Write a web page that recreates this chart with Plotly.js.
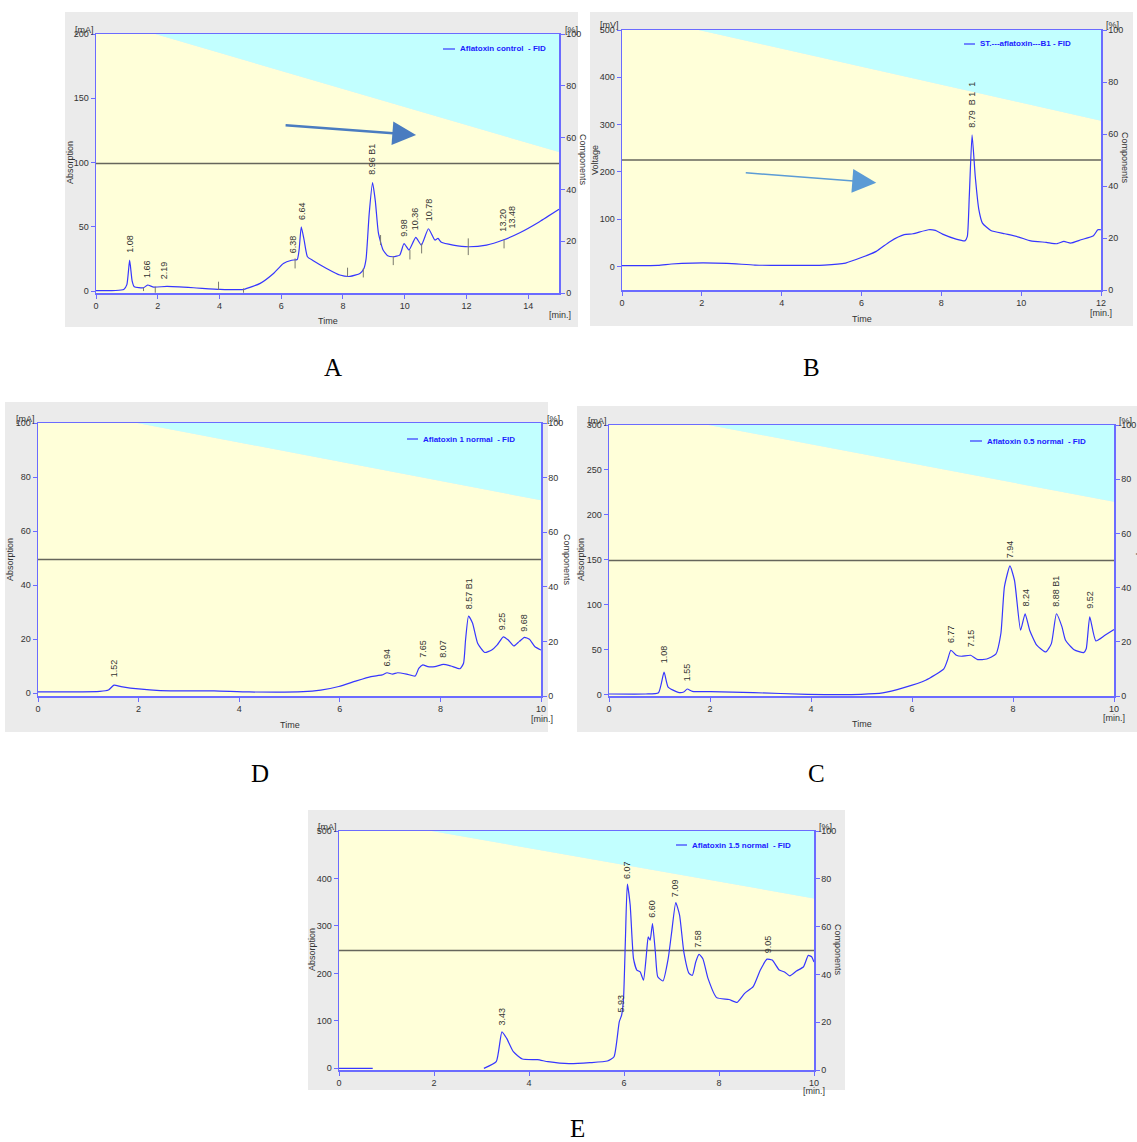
<!DOCTYPE html>
<html><head><meta charset="utf-8">
<script src="https://cdn.plot.ly/plotly-3.0.1.min.js"></script>
<style>html,body{margin:0;padding:0;background:#fff}#chart{width:1137px;height:1142px}</style>
</head><body><div id="chart"></div>
<script>
// ---------- DATA ----------
// Panel A : Aflatoxin control
const timeA = [0,0.9,1.0,1.09,1.17,1.24,1.54,1.67,1.87,2.3,3.16,4.02,4.78,5.32,5.75,6.07,6.34,6.52,6.58,6.65,6.74,6.85,7.04,7.47,7.9,8.23,8.55,8.68,8.75,8.85,8.96,9.05,9.15,9.3,9.45,9.63,9.84,9.98,10.14,10.36,10.54,10.77,10.98,11.08,11.19,11.57,12.06,12.65,13.19,13.73,14.37,15];
const absA  = [0.3,1.3,5,24,8,3.4,2.6,4.7,3.1,3.6,2.6,1.3,1.3,6,13.7,21.5,24,24.6,32,50,40,26.7,23.6,17.6,12.5,11.4,13.7,17.6,25,60,84.3,70,45,32,27.5,26.7,28,37,32,41.8,35.8,48.5,39.7,41,37.9,35.8,34.5,35.8,39.7,45.4,54,63.6];
const gradTimeA = [0,1.92,15];
const gradPctA  = [100,100,54.4];
const peakTimeA  = [1.09,1.65,2.19,6.39,6.65,8.96,9.99,10.36,10.77,13.19,13.49];
const peakLevelA = [28,8.6,7.3,28,54,89,41,46,52.7,44.4,47];
const peakTextA  = ['1.08','1.66','2.19','6.38','6.64','8.96 B1','9.98','10.36','10.78','13.20','13.48'];
const markTimeA = [1.54,1.92,3.97,4.78,6.45,8.15,8.66,9.22,9.63,10.17,10.55,12.06,13.22];
const markLowA  = [0,-1.3,0.8,-1.3,17.6,11.2,10.6,35.8,20.2,24.6,29.3,28,33.2];
const markHighA = [2.6,3.4,7.3,2,25.4,18.2,17.6,43.6,27.2,31.9,37.1,41,40.2];

// Panel B : ST.---aflatoxin---B1
const timeB = [0,0.9,1.24,1.77,2.63,3.33,4.03,5.07,5.6,6.03,6.37,6.72,7.07,7.29,7.68,7.85,8.03,8.37,8.59,8.65,8.7,8.77,8.85,8.94,9.03,9.24,9.59,9.94,10.24,10.63,10.9,11.07,11.24,11.5,11.81,11.92,12];
const voltB = [1.4,2,5,7,6.3,2.8,2,2.8,7,19.7,31.7,52.8,67,69,77.5,76,68.3,57.7,54,63,148,278,190,120,91.5,76,69,62,54,50.7,47.9,52.8,49.3,56.3,64.8,77.5,77.5];
const gradTimeB = [0,1.92,12];
const gradPctB  = [100,100,65.1];
const peakTimeB  = [8.77];
const peakLevelB = [289];
const peakTextB  = ['8.79  B 1  1'];

// Panel D : Aflatoxin 1 normal
const timeD = [0,0.66,1.23,1.4,1.51,1.65,2.0,2.43,3.5,4.2,5.27,5.62,5.98,6.33,6.62,6.84,6.94,7.05,7.15,7.33,7.5,7.57,7.65,7.75,7.89,8.06,8.21,8.39,8.46,8.5,8.56,8.64,8.74,8.88,9.02,9.13,9.25,9.35,9.46,9.57,9.67,9.77,9.88,10];
const absD  = [0.5,0.5,0.7,1.2,3,2.5,1.6,1,0.9,0.5,0.6,1.2,2.5,4.6,6.2,6.8,7.6,7.1,7.6,7.1,6.4,9.2,10.5,9.9,9.9,10.7,10.1,9.1,11.1,19.7,28.6,25.9,18.5,15.1,16,17.9,20.9,19.7,17.5,19.2,20.7,20,17.2,16];
const gradTimeD = [0,1.97,10];
const gradPctD  = [100,100,71.7];
const peakTimeD  = [1.51,6.94,7.65,8.06,8.56,9.24,9.67];
const peakLevelD = [5.2,9.2,12.3,12.6,30.4,22.5,22.2];
const peakTextD  = ['1.52','6.94','7.65','8.07','8.57 B1','9.25','9.68'];

// Panel C : Aflatoxin 0.5 normal
const timeC = [0,0.73,0.98,1.09,1.17,1.37,1.48,1.55,1.65,2.01,2.86,3.93,4.99,5.42,5.84,6.27,6.63,6.7,6.77,6.88,6.98,7.16,7.3,7.48,7.66,7.76,7.83,7.94,8.03,8.15,8.24,8.33,8.47,8.65,8.76,8.86,8.97,9.04,9.21,9.4,9.45,9.52,9.64,9.82,10];
const absC  = [0.7,0.7,2.2,25,8.5,2.6,3,6.3,3.7,3.3,2.2,0.4,0.4,1.9,7.8,16,28.6,38,49.4,43.8,42.7,43.8,39,39.7,45,68,120,143.3,127,71.7,90,71.7,55,47.5,56.8,90,75.4,60.5,50,46.8,51,86.5,59.8,66,72.4];
const gradTimeC = [0,1.97,10];
const gradPctC  = [100,100,71.7];
const peakTimeC  = [1.09,1.55,6.77,7.16,7.94,8.25,8.86,9.52];
const peakLevelC = [32.7,13,55,50,149.6,95.4,95.4,93.2];
const peakTextC  = ['1.08','1.55','6.77','7.15','7.94','8.24','8.88 B1','9.52'];

// Panel E : Aflatoxin 1.5 normal
const timeE = [0,0.71,1.5,3.05,3.31,3.43,3.53,3.67,3.86,4.18,4.4,4.84,5.28,5.65,5.79,5.9,5.95,5.99,6.03,6.07,6.13,6.2,6.27,6.34,6.41,6.47,6.51,6.55,6.6,6.66,6.71,6.82,6.93,7.0,7.09,7.17,7.26,7.37,7.44,7.51,7.58,7.66,7.77,7.95,8.21,8.38,8.54,8.72,8.87,9.01,9.12,9.27,9.38,9.49,9.63,9.78,9.88,9.95,10];
const absE  = [0,0,null,0,14,77,63,35,19.6,18.2,14,9.8,11.9,15.4,24.5,98,112,147,273,388,344,231,207,203,186,238,277,270,305,245,193,184,231,284,349,323,245,200,196,224,240,231,189,149,145,139,158,172,207,230,228,207,203,195,205,214,238,235,224];
const gradTimeE = [0,1.95,10];
const gradPctE  = [100,100,71.8];
const peakTimeE  = [3.43,5.94,6.08,6.6,7.09,7.57,9.03];
const peakLevelE = [86,113.6,394,312,356,249,238];
const peakTextE  = ['3.43','5.93','6.07','6.60','7.09','7.58','9.05'];

// ---------- LAYOUT HELPERS ----------
const W = 1137, H = 1142;
const PX = x => x / W, PY = y => 1 - y / H;
const YEL = '#ffffd9', CYAN = '#c2ffff', GRAY = '#ebebeb';
const AXIS = '#6b6bff', CURVE = '#3636ff', TXT = '#333333';
const FONT = 'Liberation Sans, Arial, sans-serif';

const panels = [
  {t:timeA, v:absA, gT:gradTimeA, gP:gradPctA, pT:peakTimeA, pL:peakLevelA, pS:peakTextA,
   box:[65,12,578,327], plot:[96,34,559,293], yr:[-1.5,200], dt:50, xEnd:15,
   unit:'[mA]', unitPos:[84,30], pctPos:[571,30], yTitle:'Absorption', yTitlePos:[70,163],
   compPos:[583,160], timePos:[328,321], minPos:[560,315],
   legend:'Aflatoxin control  - FID', legPos:[443,455,458,49], letter:'A', letterPos:[333,367]},
  {t:timeB, v:voltB, gT:gradTimeB, gP:gradPctB, pT:peakTimeB, pL:peakLevelB, pS:peakTextB,
   box:[590,12,1133,326], plot:[622,30,1101,290], yr:[-50,500], dt:100, xEnd:12,
   unit:'[mV]', unitPos:[609,25], pctPos:[1112,25], yTitle:'Voltage', yTitlePos:[595,160],
   compPos:[1125,158], timePos:[862,319], minPos:[1101,313],
   legend:'ST.---aflatoxin---B1 - FID', legPos:[964,975,978,44], letter:'B', letterPos:[811,367]},
  {t:timeD, v:absD, gT:gradTimeD, gP:gradPctD, pT:peakTimeD, pL:peakLevelD, pS:peakTextD,
   box:[5,402,548,732], plot:[38,423,541,696], yr:[-1,100], dt:20, xEnd:10,
   unit:'[mA]', unitPos:[25,419], pctPos:[553,419], yTitle:'Absorption', yTitlePos:[10,560],
   compPos:[567,560], timePos:[290,725], minPos:[542,719],
   legend:'Aflatoxin 1 normal  - FID', legPos:[407,418,421,439], letter:'D', letterPos:[260,773]},
  {t:timeC, v:absC, gT:gradTimeC, gP:gradPctC, pT:peakTimeC, pL:peakLevelC, pS:peakTextC,
   box:[577,406,1137,732], plot:[609,425,1114,696], yr:[-1.5,300], dt:50, xEnd:10,
   unit:'[mA]', unitPos:[597,421], pctPos:[1125,421], yTitle:'Absorption', yTitlePos:[581,560],
   compPos:[1141,560], timePos:[862,724], minPos:[1114,718],
   legend:'Aflatoxin 0.5 normal  - FID', legPos:[970,982,985,441], letter:'C', letterPos:[816,773]},
  {t:timeE, v:absE, gT:gradTimeE, gP:gradPctE, pT:peakTimeE, pL:peakLevelE, pS:peakTextE,
   box:[308,810,845,1090], plot:[339,831,814,1070], yr:[-3.5,500], dt:100, xEnd:10,
   unit:'[mA]', unitPos:[327,827], pctPos:[825,827], yTitle:'Absorption', yTitlePos:[312,950],
   compPos:[838,950], timePos:null, minPos:[814,1091],
   legend:'Aflatoxin 1.5 normal  - FID', legPos:[676,687,690,845], letter:'E', letterPos:[577,1128]}
];

const sfx = k => (k === 1 ? '' : String(k));
const traces = [], shapes = [], annotations = [];
const layout = {
  width: W, height: H, margin: {l:0, r:0, t:0, b:0},
  paper_bgcolor: '#ffffff', plot_bgcolor: 'rgba(0,0,0,0)',
  showlegend: false, font: {family: FONT, size: 9, color: TXT},
  shapes, annotations
};

const tickFont = {family: FONT, size: 9, color: TXT};
const note = (x, y, text, extra) => annotations.push(Object.assign({
  xref:'paper', yref:'paper', x: PX(x), y: PY(y), text, showarrow:false,
  xanchor:'center', yanchor:'middle', font:{family:FONT, size:9, color:TXT}
}, extra || {}));

panels.forEach((p, i) => {
  const n = i + 1;
  const xk = 'x' + sfx(n), baseK = 'y' + sfx(2*n-1), leftK = 'y' + sfx(2*n);
  const [x0, y0, x1, y1] = p.plot;
  layout['xaxis' + sfx(n)] = {
    domain: [PX(x0), PX(x1)], range: [0, p.xEnd], anchor: baseK,
    showline: true, linecolor: AXIS, linewidth: 1.5, mirror: true,
    ticks: 'outside', ticklen: 4, tickcolor: AXIS, dtick: 2, tick0: 0,
    tickfont: tickFont, showgrid: false, zeroline: false, fixedrange: true
  };
  layout['yaxis' + sfx(2*n-1)] = {
    domain: [PY(y1), PY(y0)], range: [0, 100], anchor: xk, side: 'right',
    showline: true, linecolor: AXIS, linewidth: 1.5,
    ticks: 'outside', ticklen: 4, tickcolor: AXIS, dtick: 20, tick0: 0,
    tickfont: tickFont, showgrid: false, zeroline: false, fixedrange: true
  };
  layout['yaxis' + sfx(2*n)] = {
    overlaying: baseK, range: p.yr, anchor: xk, side: 'left',
    showline: true, linecolor: AXIS, linewidth: 1.5,
    ticks: 'outside', ticklen: 4, tickcolor: AXIS, dtick: p.dt, tick0: 0,
    tickfont: tickFont, showgrid: false, zeroline: false, fixedrange: true
  };

  // grey panel background
  const [bx0, by0, bx1, by1] = p.box;
  shapes.push({type:'rect', xref:'paper', yref:'paper', layer:'below',
    x0:PX(bx0), x1:PX(bx1), y0:PY(by1), y1:PY(by0), fillcolor:GRAY, line:{width:0}});

  // gradient (yellow below, cyan above)
  traces.push({x:p.gT, y:p.gP, xaxis:xk, yaxis:baseK, mode:'lines', fill:'tozeroy',
    fillcolor:YEL, line:{width:0, color:YEL}, hoverinfo:'skip'});
  traces.push({x:[0, p.xEnd], y:[100, 100], xaxis:xk, yaxis:baseK, mode:'lines', fill:'tonexty',
    fillcolor:CYAN, line:{width:0, color:CYAN}, hoverinfo:'skip'});
  // 50 % reference line
  traces.push({x:[0, p.xEnd], y:[50, 50], xaxis:xk, yaxis:baseK, mode:'lines',
    line:{width:1.5, color:'#66665c'}, hoverinfo:'skip'});
  // chromatogram
  traces.push({x:p.t, y:p.v, xaxis:xk, yaxis:leftK, mode:'lines', connectgaps:false,
    line:{color:CURVE, width:1.2, shape:'spline', smoothing:0.5}});

  // peak labels
  p.pT.forEach((t, k) => annotations.push({xref:xk, yref:leftK, x:t, y:p.pL[k],
    text:p.pS[k], textangle:-90, showarrow:false, xanchor:'center', yanchor:'bottom',
    font:{family:FONT, size:9, color:TXT}}));

  // texts
  note(p.unitPos[0], p.unitPos[1], p.unit);
  note(p.pctPos[0], p.pctPos[1], '[%]');
  note(p.yTitlePos[0], p.yTitlePos[1], p.yTitle, {textangle:-90});
  note(p.compPos[0], p.compPos[1], 'Components', {textangle:90});
  if (p.timePos) note(p.timePos[0], p.timePos[1], 'Time');
  note(p.minPos[0], p.minPos[1], '[min.]');
  // legend
  const [lx0, lx1, ltx, ly] = p.legPos;
  shapes.push({type:'line', xref:'paper', yref:'paper', x0:PX(lx0), x1:PX(lx1), y0:PY(ly), y1:PY(ly),
    line:{color:CURVE, width:1.2}});
  note(ltx, ly, '<b>' + p.legend + '</b>', {xanchor:'left', font:{family:FONT, size:8, color:'#1c1cff'}});
  // panel letter
  note(p.letterPos[0], p.letterPos[1], p.letter, {font:{family:'Liberation Serif, Times New Roman, serif', size:25, color:'#000'}});
});

// integration marks (panel A)
const mx = [], my = [];
markTimeA.forEach((t, k) => { mx.push(t, t, null); my.push(markLowA[k], markHighA[k], null); });
traces.push({x:mx, y:my, xaxis:'x', yaxis:'y2', mode:'lines', line:{color:'#7a7a6e', width:1}, hoverinfo:'skip'});

// arrows (panels A and B)
annotations.push({xref:'x', yref:'y2', x:10.37, y:121.4, ax:-132, ay:-10, showarrow:true,
  arrowhead:2, arrowsize:1.9, arrowwidth:2.5, arrowcolor:'#4a7cc0', text:''});
annotations.push({xref:'x2', yref:'y4', x:6.37, y:177, ax:-132, ay:-10, showarrow:true,
  arrowhead:2, arrowsize:3, arrowwidth:1.6, arrowcolor:'#5b9bd5', text:''});

Plotly.newPlot('chart', traces, layout, {staticPlot:true, displayModeBar:false});
</script>
</body></html>
